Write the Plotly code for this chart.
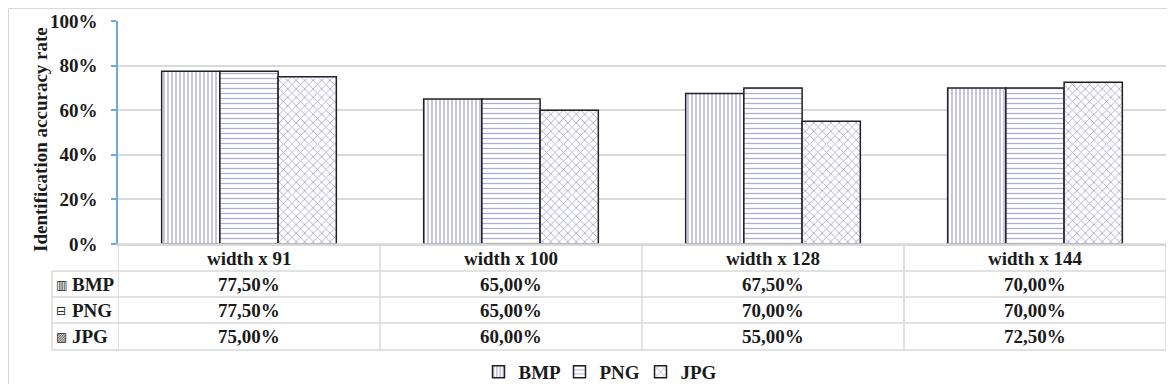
import plotly.graph_objects as go

categories = ["width x 91", "width x 100", "width x 128", "width x 144"]
series_names = ["BMP", "PNG", "JPG"]
bmp = [0.775, 0.65, 0.675, 0.70]
png = [0.775, 0.65, 0.70, 0.70]
jpg = [0.75, 0.60, 0.55, 0.725]
table_labels = {
    "BMP": ["77,50%", "65,00%", "67,50%", "70,00%"],
    "PNG": ["77,50%", "65,00%", "70,00%", "70,00%"],
    "JPG": ["75,00%", "60,00%", "55,00%", "72,50%"],
}
y_ticks = [0, 0.2, 0.4, 0.6, 0.8, 1.0]
y_title = "Identification accuracy rate"

# page offset of the plotly div (default body margin)
OFF = 8
W, H = 1175 - 2 * OFF, 392 - 2 * OFF
# plot area in page pixels: x 118..1166, y 21..244
ML = 118 - OFF
MT = 21 - OFF
PR = 1166 - OFF
PB = 244 - OFF
MR = W - PR
MB = H - PB
PW = W - ML - MR
PH = H - MT - MB

def px(x):  # page x -> paper
    return (x - OFF - ML) / PW

def py(y):  # page y -> paper
    return (PB - (y - OFF)) / PH

FONT = "Liberation Serif"
TXT = "#1a1a1a"
GRID = "#d9d9d9"
PAT = "#5a5aae"
FS = 19

patterns = {"BMP": "|", "PNG": "-", "JPG": "x"}
psize = {"BMP": 4, "PNG": 5, "JPG": 6}
psol = {"BMP": 0.35, "PNG": 0.25, "JPG": 0.28}
values = {"BMP": bmp, "PNG": png, "JPG": jpg}

fig = go.Figure()
for s in series_names:
    fig.add_trace(go.Bar(
        name=s, x=categories, y=values[s],
        marker=dict(color="white",
                    line=dict(color="#222222", width=1.5),
                    pattern=dict(shape=patterns[s], fgcolor=PAT, bgcolor="white",
                                 size=psize[s], solidity=psol[s])),
    ))

shapes = []
# outer chart border (left and top)
shapes.append(dict(type="line", xref="paper", yref="paper", x0=px(8.5), x1=px(8.5), y0=py(8.5), y1=py(392),
                   line=dict(color=GRID, width=1)))
shapes.append(dict(type="line", xref="paper", yref="paper", x0=px(8.5), x1=px(1175), y0=py(8.5), y1=py(8.5),
                   line=dict(color=GRID, width=1)))

row_bounds = [244, 271, 297, 323, 350]
for i, yb in enumerate(row_bounds):
    x0 = px(118) if i == 0 else px(52)
    shapes.append(dict(type="line", xref="paper", yref="paper", x0=x0, x1=1, y0=py(yb), y1=py(yb),
                       line=dict(color=GRID, width=1.5)))
shapes.append(dict(type="line", xref="paper", yref="paper", x0=px(52), x1=px(52), y0=py(271), y1=py(350),
                   line=dict(color=GRID, width=1.5)))
for k in range(len(categories) + 1):
    shapes.append(dict(type="line", xref="x", yref="paper", x0=k - 0.5, x1=k - 0.5, y0=py(244), y1=py(350),
                       line=dict(color=GRID, width=1.5)))

bold = dict(family=FONT, size=FS, color=TXT, weight="bold")
annotations = []
annotations.append(dict(text=y_title, xref="paper", yref="paper", x=px(40), y=py(140), textangle=-90,
                        showarrow=False, font=bold, xanchor="center", yanchor="middle"))
for c in categories:
    annotations.append(dict(text=c, xref="x", yref="paper", x=c, y=py(258), showarrow=False,
                            font=bold, xanchor="center", yanchor="middle"))
row_centers = {"BMP": 284.5, "PNG": 310.5, "JPG": 336.5}
icons = {"BMP": "▥", "PNG": "⊟", "JPG": "▨"}
for s in series_names:
    yc = py(row_centers[s])
    annotations.append(dict(text=icons[s], xref="paper", yref="paper", x=px(61), y=yc, showarrow=False,
                            font=dict(family="DejaVu Sans", size=12, color="#222222"),
                            xanchor="center", yanchor="middle"))
    annotations.append(dict(text=s, xref="paper", yref="paper", x=px(70), y=yc, showarrow=False,
                            font=bold, xanchor="left", yanchor="middle"))
    for c, v in zip(categories, table_labels[s]):
        annotations.append(dict(text=v, xref="x", yref="paper", x=c, y=yc, showarrow=False,
                                font=bold, xanchor="center", yanchor="middle"))

fig.update_layout(
    width=W, height=H,
    margin=dict(l=ML, r=MR, t=MT, b=MB, autoexpand=False),
    paper_bgcolor="white", plot_bgcolor="white",
    barmode="group", bargap=1/3, bargroupgap=0,
    font=dict(family=FONT, color=TXT),
    shapes=shapes, annotations=annotations,
    legend=dict(orientation="h", x=px(600), y=py(372), xanchor="center", yanchor="middle",
                font=bold, itemwidth=30, tracegroupgap=0, bgcolor="rgba(0,0,0,0)",
                entrywidth=36, entrywidthmode="pixels"),
    xaxis=dict(type="category", range=[-0.5, len(categories) - 0.5], showticklabels=False, ticks="",
               showline=True, linecolor=GRID, linewidth=1.5, showgrid=False, zeroline=False,
               fixedrange=True),
    yaxis=dict(range=[0, 1.0], tickvals=y_ticks, tickformat=".0%", showgrid=True, gridcolor=GRID,
               gridwidth=1.5, showline=True, linecolor="#6fa8dc", linewidth=1.5, ticks="outside",
               tickcolor="#6fa8dc", ticklen=5, tickwidth=1.5, zeroline=False, ticklabelstandoff=10,
               tickfont=bold),
)

fig.write_html("out.html")
